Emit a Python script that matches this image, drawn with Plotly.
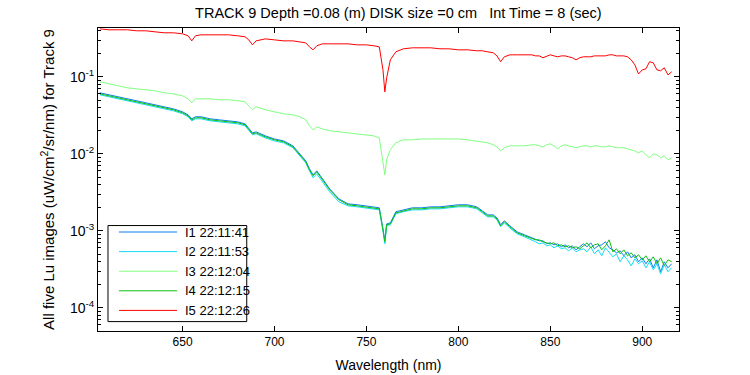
import plotly.graph_objects as go

# Wavelength grid (nm)
wavelength = [605, 610, 615, 620, 625, 630, 635, 640, 645, 650,
              653, 655, 657, 660, 665, 670, 675, 680, 684, 686, 688, 690,
              695, 700, 705, 710, 714, 717, 719, 721, 723, 726,
              730, 735, 740, 745, 750, 754, 757, 759, 760, 761, 763, 766,
              770, 775, 780, 785, 790, 795, 800, 805, 810,
              813, 816, 819, 821, 823, 825, 828, 832, 836,
              840, 842, 844, 846, 848, 850, 852, 854, 856, 858,
              860, 862, 864, 866, 868, 870, 872, 874, 876, 878,
              880, 882, 884, 886, 888, 890, 892, 894, 896, 898,
              900, 902, 904, 906, 908, 910, 912, 914, 916]

# I1 22:11:41 (blue)
i1 = [0.0620, 0.0584, 0.0549, 0.0518, 0.0488, 0.0460, 0.0433, 0.0408, 0.0384, 0.0351,
      0.0321, 0.0285, 0.0303, 0.0303, 0.0285, 0.0276, 0.0268, 0.0260, 0.0245, 0.0211, 0.0187, 0.0193,
      0.0171, 0.0156, 0.0147, 0.0127, 0.00999, 0.00811, 0.00639, 0.00534, 0.00602, 0.00474,
      0.00351, 0.00260, 0.00224, 0.00218, 0.00211, 0.00205, 0.00199, 0.00106, 0.000742, 0.00123, 0.00127, 0.00177,
      0.00187, 0.00199, 0.00199, 0.00205, 0.00205, 0.00211, 0.00218, 0.00218, 0.00205,
      0.00182, 0.00161, 0.00161, 0.00147, 0.00120, 0.00135, 0.00116, 0.000970, 0.000887,
      0.000811, 0.000787, 0.000742, 0.000742, 0.000678, 0.000699, 0.000658, 0.000678, 0.000620, 0.000658,
      0.000602, 0.000639, 0.000567, 0.000620, 0.000678, 0.000620, 0.000699, 0.000584, 0.000639, 0.000658,
      0.000720, 0.000602, 0.000567, 0.000518, 0.000550, 0.000474, 0.000534, 0.000446, 0.000488, 0.000396,
      0.000446, 0.000373, 0.000433, 0.000331, 0.000420, 0.000294, 0.000396, 0.000331, 0.000373]

# I2 22:11:53 (cyan)
i2 = [0.0584, 0.0549, 0.0518, 0.0488, 0.0460, 0.0433, 0.0408, 0.0384, 0.0362, 0.0331,
      0.0303, 0.0268, 0.0285, 0.0285, 0.0268, 0.0260, 0.0253, 0.0245, 0.0231, 0.0199, 0.0177, 0.0182,
      0.0161, 0.0147, 0.0139, 0.0120, 0.00941, 0.00764, 0.00602, 0.00488, 0.00550, 0.00433,
      0.00321, 0.00238, 0.00211, 0.00205, 0.00199, 0.00193, 0.00187, 0.000999, 0.000678, 0.00116, 0.00120, 0.00166,
      0.00177, 0.00187, 0.00187, 0.00193, 0.00193, 0.00199, 0.00205, 0.00205, 0.00193,
      0.00171, 0.00152, 0.00152, 0.00139, 0.00113, 0.00127, 0.00109, 0.000914, 0.000836,
      0.000764, 0.000720, 0.000678, 0.000699, 0.000639, 0.000658, 0.000602, 0.000639, 0.000584, 0.000602,
      0.000550, 0.000602, 0.000534, 0.000567, 0.000584, 0.000534, 0.000620, 0.000503, 0.000567, 0.000474,
      0.000602, 0.000534, 0.000460, 0.000503, 0.000396, 0.000474, 0.000420, 0.000351, 0.000433, 0.000373,
      0.000408, 0.000331, 0.000396, 0.000312, 0.000373, 0.000276, 0.000362, 0.000294, 0.000331]

# I3 22:12:04 (light green)
i3 = [0.0861, 0.0811, 0.0764, 0.0720, 0.0699, 0.0678, 0.0658, 0.0620, 0.0601, 0.0566,
      0.0518, 0.0460, 0.0518, 0.0518, 0.0518, 0.0503, 0.0503, 0.0488, 0.0474, 0.0420, 0.0373, 0.0408,
      0.0373, 0.0351, 0.0331, 0.0321, 0.0303, 0.0276, 0.0231, 0.0205, 0.0224, 0.0211,
      0.0199, 0.0193, 0.0187, 0.0182, 0.0177, 0.0171, 0.0161, 0.00836, 0.00534, 0.00836, 0.0113, 0.0139,
      0.0152, 0.0152, 0.0156, 0.0156, 0.0156, 0.0156, 0.0156, 0.0152, 0.0147,
      0.0143, 0.0139, 0.0131, 0.0123, 0.0109, 0.0120, 0.0127, 0.0127, 0.0127,
      0.0131, 0.0131, 0.0127, 0.0123, 0.0131, 0.0135, 0.0127, 0.0116, 0.0127, 0.0131,
      0.0127, 0.0123, 0.0120, 0.0123, 0.0127, 0.0127, 0.0123, 0.0127, 0.0127, 0.0123,
      0.0123, 0.0127, 0.0123, 0.0120, 0.0120, 0.0120, 0.0116, 0.0113, 0.0109, 0.0103,
      0.0109, 0.0097, 0.00887, 0.0100, 0.0097, 0.00887, 0.00941, 0.00836, 0.00887]

# I4 22:12:15 (green)
i4 = [0.0601, 0.0566, 0.0534, 0.0503, 0.0474, 0.0446, 0.0420, 0.0396, 0.0373, 0.0341,
      0.0311, 0.0276, 0.0294, 0.0294, 0.0276, 0.0268, 0.0260, 0.0253, 0.0238, 0.0205, 0.0182, 0.0187,
      0.0166, 0.0152, 0.0143, 0.0123, 0.0097, 0.00788, 0.00620, 0.00518, 0.00584, 0.00460,
      0.00341, 0.00253, 0.00218, 0.00211, 0.00205, 0.00199, 0.00193, 0.00103, 0.000720, 0.00120, 0.00123, 0.00171,
      0.00182, 0.00193, 0.00193, 0.00199, 0.00199, 0.00205, 0.00211, 0.00211, 0.00199,
      0.00177, 0.00156, 0.00156, 0.00143, 0.00116, 0.00131, 0.00113, 0.000941, 0.000861,
      0.000787, 0.000764, 0.000764, 0.000720, 0.000699, 0.000678, 0.000699, 0.000639, 0.000658, 0.000620,
      0.000639, 0.000602, 0.000620, 0.000584, 0.000639, 0.000699, 0.000602, 0.000658, 0.000678, 0.000567,
      0.000639, 0.000764, 0.000534, 0.000584, 0.000503, 0.000567, 0.000474, 0.000518, 0.000446, 0.000488,
      0.000420, 0.000474, 0.000396, 0.000460, 0.000373, 0.000446, 0.000351, 0.000420, 0.000396]

# I5 22:12:26 (red)
i5 = [0.420, 0.408, 0.408, 0.408, 0.396, 0.396, 0.384, 0.373, 0.373, 0.362,
      0.341, 0.293, 0.341, 0.351, 0.351, 0.351, 0.351, 0.341, 0.331, 0.302, 0.260, 0.293,
      0.311, 0.302, 0.293, 0.293, 0.285, 0.276, 0.245, 0.224, 0.253, 0.268,
      0.268, 0.268, 0.268, 0.260, 0.260, 0.253, 0.245, 0.123, 0.0638, 0.097, 0.166, 0.211,
      0.231, 0.238, 0.238, 0.238, 0.231, 0.231, 0.224, 0.224, 0.218,
      0.218, 0.211, 0.205, 0.187, 0.157, 0.182, 0.193, 0.193, 0.193,
      0.193, 0.187, 0.187, 0.177, 0.187, 0.193, 0.187, 0.182, 0.187, 0.187,
      0.182, 0.177, 0.166, 0.177, 0.182, 0.182, 0.182, 0.187, 0.187, 0.187,
      0.187, 0.193, 0.193, 0.187, 0.187, 0.187, 0.182, 0.166, 0.143, 0.109,
      0.123, 0.127, 0.157, 0.152, 0.123, 0.120, 0.131, 0.106, 0.116]

names = ["I1 22:11:41", "I2 22:11:53", "I3 22:12:04", "I4 22:12:15", "I5 22:12:26"]
series = [i1, i2, i3, i4, i5]
colors = ["#0A7FF0", "#14DCF5", "#80FF80", "#10C010", "#FF0000"]

x_ticks = [650, 700, 750, 800, 850, 900]
y_ticks = [1e-4, 1e-3, 1e-2, 1e-1]
y_ticklabels = ["10<sup>-4</sup>", "10<sup>-3</sup>", "10<sup>-2</sup>", "10<sup>-1</sup>"]

FONT = "Liberation Sans, Arial, sans-serif"

fig = go.Figure()
for name, vals, col in zip(names, series, colors):
    fig.add_trace(go.Scatter(x=wavelength, y=vals, mode="lines", name=name,
                             line=dict(color=col, width=1), showlegend=False))

# MATLAB-style legend box drawn in paper coordinates
LEG_X0, LEG_X1, LEG_Y0, LEG_Y1 = 0.0172, 0.256, 0.031, 0.348
LINE_X0, LINE_X1, TEXT_X = 0.0361, 0.1360, 0.1463
row_y = [0.3267, 0.2620, 0.1973, 0.1327, 0.0680]
shapes = [dict(type="rect", xref="paper", yref="paper", x0=LEG_X0, x1=LEG_X1, y0=LEG_Y0, y1=LEG_Y1,
               line=dict(color="black", width=1), fillcolor="white", layer="above")]
annotations = []
for name, col, ry in zip(names, colors, row_y):
    shapes.append(dict(type="line", xref="paper", yref="paper", x0=LINE_X0, x1=LINE_X1, y0=ry, y1=ry,
                       line=dict(color=col, width=1), layer="above"))
    annotations.append(dict(xref="paper", yref="paper", x=TEXT_X, y=ry, text=name, showarrow=False,
                            xanchor="left", yanchor="middle",
                            font=dict(family=FONT, size=13, color="black")))

minor_vals = [m * 10 ** e for e in range(-5, 1) for m in range(2, 10)]

fig.update_layout(
    width=750, height=375,
    margin=dict(l=98, r=71, t=28, b=44),
    paper_bgcolor="white", plot_bgcolor="white",
    font=dict(family=FONT, size=12, color="black"),
    title=dict(text="TRACK 9 Depth =0.08 (m) DISK size =0 cm\u00a0\u00a0\u00a0Int Time = 8 (sec)",
               xref="paper", x=0.517, xanchor="center", y=0.9653, yanchor="middle",
               font=dict(family=FONT, size=14.5, color="black")),
    showlegend=False,
    hovermode=False,
    shapes=shapes,
    annotations=annotations,
)

fig.update_xaxes(
    range=[604, 920], tickvals=x_ticks, ticks="inside", ticklen=5, tickcolor="black",
    showline=True, linecolor="black", linewidth=1, mirror="ticks",
    showgrid=False, zeroline=False, automargin=False,
    tickfont=dict(family=FONT, size=12, color="black"),
    title=dict(text="Wavelength (nm)", font=dict(family=FONT, size=14, color="black"), standoff=11),
)
fig.update_yaxes(
    type="log", range=[-4.301, -0.366], tickmode="array", tickvals=y_ticks, ticktext=y_ticklabels,
    ticks="inside", ticklen=5, tickcolor="black",
    showline=True, linecolor="black", linewidth=1, mirror="ticks",
    showgrid=False, zeroline=False, automargin=False,
    tickfont=dict(family=FONT, size=14, color="black"),
    minor=dict(tickmode="array", tickvals=minor_vals, ticks="inside", ticklen=3, tickcolor="black", showgrid=False),
    title=dict(text="All five Lu images (uW/cm<sup>2</sup>/sr/nm) for Track 9",
               font=dict(family=FONT, size=15, color="black"), standoff=11),
)

fig.write_html("out.html", config={"displayModeBar": False},
               post_script="document.body.style.margin='0px';")
